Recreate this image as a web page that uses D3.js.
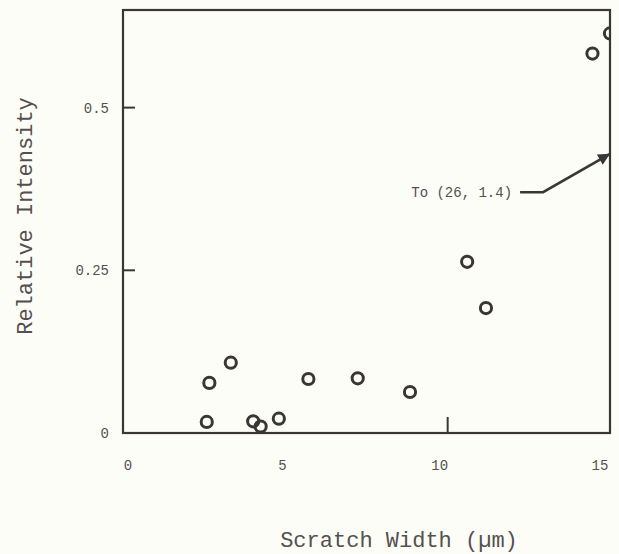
<!DOCTYPE html>
<html>
<head>
<meta charset="utf-8">
<script src="https://cdn.jsdelivr.net/npm/d3@7"></script>
<style>
  html, body { margin: 0; padding: 0; background: #fdfdf7; }
  svg { display: block; }
  text { font-family: "Liberation Mono", "DejaVu Sans Mono", monospace; }
</style>
</head>
<body>
<svg id="chart" width="619" height="554"></svg>
<script>
// Data
const scratchWidth = [2.58, 2.66, 3.32, 4.01, 4.24, 4.80, 5.71, 7.23, 8.84, 10.60, 11.18, 14.46, 15.0];
const relIntensity = [0.017, 0.077, 0.108, 0.018, 0.010, 0.022, 0.083, 0.084, 0.063, 0.263, 0.192, 0.583, 0.614];
const xTickValues = [0, 5, 10, 15];
const xTickLabels = ["0", "5", "10", "15"];
const xTickMarks = [10];
const yTickValues = [0, 0.25, 0.5];
const yTickLabels = ["0", "0.25", "0.5"];
const yTickMarks = [0.25, 0.5];
const annotationText = "To (26, 1.4)";
const annotationPath = [[12.23, 0.37], [12.94, 0.37], [15.0, 0.429]];
const xTitle = "Scratch Width (\u00b5m)";
const yTitle = "Relative Intensity";

const svg = d3.select("#chart");
const W = 619, H = 554;
const m = { left: 123, top: 10, right: 9, bottom: 121 };
const x0 = m.left, x1 = W - m.right, y0 = H - m.bottom, y1 = m.top;

const x = d3.scaleLinear().domain([0, 15]).range([x0, x1]);
const y = d3.scaleLinear().domain([0, 0.65]).range([y0, y1]);

const ink = "#3b3636";
const textInk = "#555050";

svg.append("rect").attr("width", W).attr("height", H).attr("fill", "#fdfdf7");

// clip for points at right border
svg.append("defs").append("clipPath").attr("id", "plotclip")
  .append("rect").attr("x", 0).attr("y", 0).attr("width", x1).attr("height", H);

// frame
svg.append("rect")
  .attr("x", x0).attr("y", y1)
  .attr("width", x1 - x0).attr("height", y0 - y1)
  .attr("fill", "none").attr("stroke", ink).attr("stroke-width", 2.2);

// y tick marks (inward)
svg.append("g").selectAll("line").data(yTickMarks).join("line")
  .attr("x1", x0).attr("x2", x0 + 12)
  .attr("y1", d => y(d)).attr("y2", d => y(d))
  .attr("stroke", ink).attr("stroke-width", 2);

// x tick marks (inward)
svg.append("g").selectAll("line").data(xTickMarks).join("line")
  .attr("x1", d => x(d)).attr("x2", d => x(d))
  .attr("y1", y0).attr("y2", y0 - 16)
  .attr("stroke", ink).attr("stroke-width", 2);

// y tick labels
svg.append("g").selectAll("text").data(yTickValues).join("text")
  .attr("x", x0 - 14)
  .attr("y", d => y(d))
  .attr("dy", "0.35em")
  .attr("text-anchor", "end")
  .attr("font-size", 14)
  .attr("fill", textInk)
  .text((d, i) => yTickLabels[i]);

// x tick labels (slight drift in the scan)
const xLabelShift = [5, -3, -8, -10];
svg.append("g").selectAll("text").data(xTickValues).join("text")
  .attr("x", (d, i) => x(d) + xLabelShift[i])
  .attr("y", y0 + 32)
  .attr("dy", "0.35em")
  .attr("text-anchor", "middle")
  .attr("font-size", 14)
  .attr("fill", textInk)
  .text((d, i) => xTickLabels[i]);

// points
svg.append("g").attr("clip-path", "url(#plotclip)")
  .selectAll("circle").data(scratchWidth).join("circle")
  .attr("cx", d => x(d))
  .attr("cy", (d, i) => y(relIntensity[i]))
  .attr("r", 5.6)
  .attr("fill", "none")
  .attr("stroke", ink)
  .attr("stroke-width", 3);

// annotation arrow
const line = d3.line().x(d => x(d[0])).y(d => y(d[1]));
svg.append("defs").append("marker")
  .attr("id", "arrowhead").attr("viewBox", "0 0 10 10")
  .attr("refX", 10).attr("refY", 5)
  .attr("markerWidth", 5).attr("markerHeight", 4.5)
  .attr("markerUnits", "strokeWidth")
  .attr("orient", "auto")
  .append("path").attr("d", "M0,0 L10,5 L0,10 z").attr("fill", ink);
svg.append("path")
  .attr("d", line(annotationPath))
  .attr("fill", "none").attr("stroke", ink).attr("stroke-width", 2.6)
  .attr("marker-end", "url(#arrowhead)");

svg.append("text")
  .attr("x", x(annotationPath[0][0]) - 8)
  .attr("y", y(annotationPath[0][1]))
  .attr("dy", "0.35em")
  .attr("text-anchor", "end")
  .attr("font-size", 14)
  .attr("fill", textInk)
  .text(annotationText);

// axis titles
svg.append("text")
  .attr("x", 399).attr("y", 547)
  .attr("text-anchor", "middle")
  .attr("font-size", 22)
  .attr("fill", textInk)
  .text(xTitle);

svg.append("text")
  .attr("transform", "translate(32,216) rotate(-90)")
  .attr("text-anchor", "middle")
  .attr("font-size", 22)
  .attr("fill", textInk)
  .text(yTitle);
</script>
</body>
</html>
